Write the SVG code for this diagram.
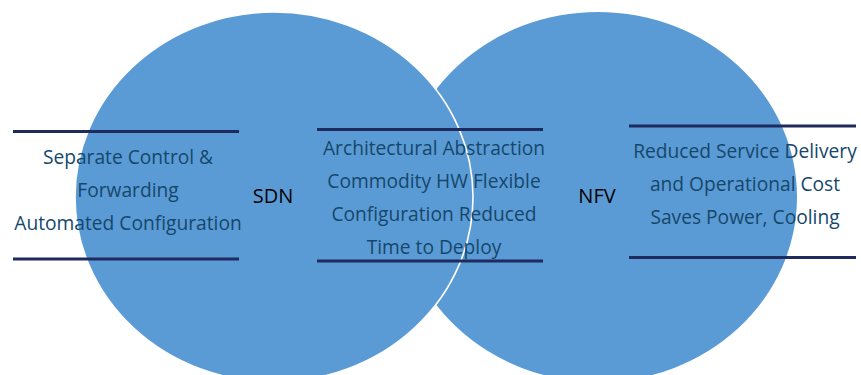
<svg xmlns="http://www.w3.org/2000/svg" width="861" height="375" viewBox="0 0 861 375">
  <style>
    .bubble { fill: #5b9bd5; }
    .bubble.front { stroke: #ffffff; stroke-width: 1.6; }
    .rule { stroke: #1f2a5e; stroke-width: 3; }
    .item { font-family: "Open Sans", "Liberation Sans", sans-serif; font-size: 19.2px; fill: #15476b; text-anchor: middle; }
    .name { font-family: "Open Sans", "Liberation Sans", sans-serif; font-size: 20px; fill: #000000; text-anchor: middle; }
  </style>
  <rect width="861" height="375" fill="#ffffff"/>

  <!-- NFV bubble sits underneath, SDN bubble overlaps it with a white rim -->
  <g id="nfv">
    <ellipse class="bubble" cx="598" cy="197" rx="199" ry="185"/>
  </g>
  <g id="sdn">
    <ellipse class="bubble front" cx="274" cy="197" rx="199" ry="185"/>
  </g>

  <!-- bracket rules framing each text block -->
  <g id="rules">
    <line class="rule" x1="13" y1="131.5" x2="239" y2="131.5"/>
    <line class="rule" x1="13" y1="259" x2="239" y2="259"/>
    <line class="rule" x1="317" y1="129.5" x2="543" y2="129.5"/>
    <line class="rule" x1="317" y1="261" x2="543" y2="261"/>
    <line class="rule" x1="629" y1="126" x2="856" y2="126"/>
    <line class="rule" x1="629" y1="257.5" x2="856" y2="257.5"/>
  </g>

  <g id="sdn-label">
    <text class="name" x="273" y="203">SDN</text>
  </g>
  <g id="nfv-label">
    <text class="name" x="597" y="203">NFV</text>
  </g>

  <g id="sdn-benefits">
    <text class="item" x="128" y="164">Separate Control &amp;</text>
    <text class="item" x="128" y="197">Forwarding</text>
    <text class="item" x="128" y="230">Automated Configuration</text>
  </g>

  <g id="shared-benefits">
    <text class="item" x="434" y="155">Architectural Abstraction</text>
    <text class="item" x="434" y="188">Commodity HW Flexible</text>
    <text class="item" x="434" y="221">Configuration Reduced</text>
    <text class="item" x="434" y="254">Time to Deploy</text>
  </g>

  <g id="nfv-benefits">
    <text class="item" x="745" y="158">Reduced Service Delivery</text>
    <text class="item" x="745" y="191">and Operational Cost</text>
    <text class="item" x="745" y="224">Saves Power, Cooling</text>
  </g>
</svg>
